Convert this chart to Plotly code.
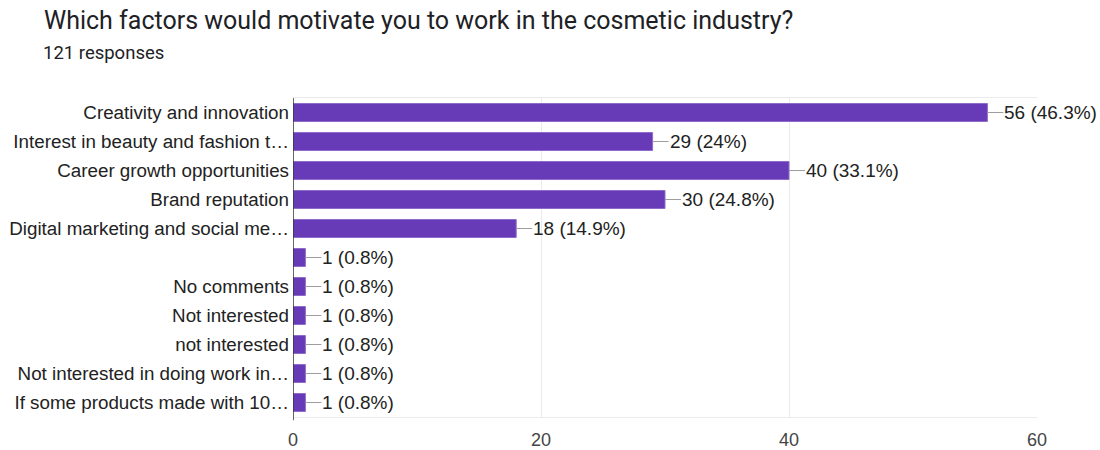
import plotly.graph_objects as go

categories = [
    "Creativity and innovation",
    "Interest in beauty and fashion t…",
    "Career growth opportunities",
    "Brand reputation",
    "Digital marketing and social me…",
    "",
    "No comments",
    "Not interested",
    "not interested",
    "Not interested in doing work in…",
    "If some products made with 10…",
]
counts = [56, 29, 40, 30, 18, 1, 1, 1, 1, 1, 1]
percents = ["46.3%", "24%", "33.1%", "24.8%", "14.9%", "0.8%", "0.8%", "0.8%", "0.8%", "0.8%", "0.8%"]
x_ticks = [0, 20, 40, 60]

positions = list(range(len(categories)))
BAR = "#673ab7"
LABEL_FONT = "Liberation Sans, Arial, sans-serif"

fig = go.Figure()
fig.add_trace(go.Bar(
    x=counts, y=positions, orientation="h",
    marker=dict(color=BAR, line=dict(color="#8e6cc9", width=1)),
    width=0.62, hoverinfo="skip",
))

shapes = []
annotations = []
for p, c, pct in zip(positions, counts, percents):
    shapes.append(dict(type="line", xref="x", yref="y", xsizemode="pixel",
                       xanchor=c, x0=0, x1=16, y0=p, y1=p,
                       line=dict(color="#9e9e9e", width=1)))
    annotations.append(dict(x=c, y=p, xref="x", yref="y", text=f"{c} ({pct})",
                            showarrow=False, xanchor="left", yanchor="middle",
                            xshift=15, font=dict(family=LABEL_FONT, size=19, color="#222222")))

annotations.append(dict(
    text="121 responses", xref="paper", yref="paper",
    x=(41 - 293) / (1100 - 293 - 63), xanchor="left",
    y=1 + (98 - 53) / (450 - 98 - 33), yanchor="middle",
    showarrow=False, font=dict(family="Roboto, sans-serif", size=18.5, color="#202124"),
))

fig.update_layout(
    width=1100, height=450,
    margin=dict(l=293, r=63, t=98, b=33),
    paper_bgcolor="white", plot_bgcolor="white",
    showlegend=False,
    title=dict(
        text="Which factors would motivate you to work in the cosmetic industry?",
        x=44 / 1100, xanchor="left", xref="container",
        y=1 - 20 / 450, yanchor="middle", yref="container",
        font=dict(family="Roboto, sans-serif", size=25, color="#202124"),
    ),
    shapes=shapes,
    annotations=annotations,
    bargap=0.38,
)
fig.update_xaxes(
    range=[0, 60], tickvals=x_ticks, ticktext=[str(t) for t in x_ticks],
    showgrid=True, gridcolor="#ebebeb", gridwidth=1,
    zeroline=False, showline=True, linecolor="#ebebeb", mirror=True,
    ticks="", ticklabelstandoff=6, automargin=False,
    tickfont=dict(family=LABEL_FONT, size=18, color="#444444"),
)
fig.update_yaxes(
    range=[len(categories) - 0.5, -0.5],
    tickvals=positions, ticktext=categories,
    showgrid=False, zeroline=False, showline=False, ticks="",
    ticklabelstandoff=3, automargin=False,
    tickfont=dict(family=LABEL_FONT, size=18.8, color="#222222"),
)
fig.add_shape(type="line", xref="x", yref="paper", x0=0, x1=0, y0=-0.01, y1=1,
              line=dict(color="#333333", width=1.5), layer="above")

fig.write_html("out.html")
